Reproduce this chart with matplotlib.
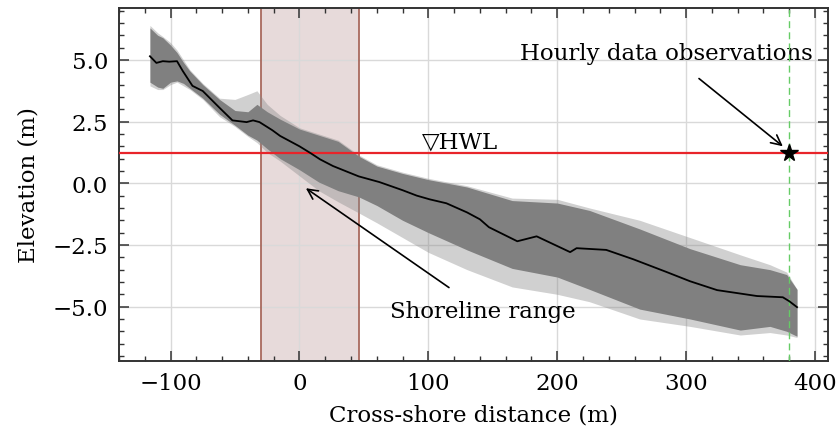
import numpy as np
from matplotlib import pyplot as plt

plt.rcParams['font.family'] = ['DejaVu Serif', 'DejaVu Sans']
plt.rcParams['mathtext.fontset'] = 'dejavuserif'

x_env = [-116, -110, -106, -100, -95, -90, -85, -75, -62, -50, -40, -33, -25, -15, 0, 15, 30,
         46, 60, 80, 100, 130, 165, 200, 225, 264, 303, 342, 365, 378, 386]
upper_out = [6.4, 6.1, 5.95, 5.7, 5.4, 5.0, 4.6, 4.05, 3.45, 3.4, 3.6, 3.75, 3.2, 2.75, 2.25, 2.0, 1.75,
             1.15, 0.75, 0.45, 0.2, -0.1, -0.6, -0.65, -1.0, -1.5, -2.2, -2.9, -3.3, -3.6, -4.3]
upper_core = [6.3, 6.0, 5.9, 5.6, 5.3, 4.9, 4.55, 4.0, 3.4, 2.95, 2.9, 3.2, 2.9, 2.6, 2.2, 1.95, 1.7,
              1.1, 0.7, 0.4, 0.15, -0.15, -0.7, -0.8, -1.1, -1.85, -2.65, -3.3, -3.5, -3.7, -4.3]
lower_core = [4.1, 3.9, 3.85, 4.1, 4.15, 4.05, 3.85, 3.45, 2.8, 2.35, 1.95, 1.75, 1.4, 1.0, 0.55, 0.05, -0.3,
              -0.55, -0.9, -1.5, -2.0, -2.7, -3.45, -3.8, -4.3, -5.1, -5.5, -5.95, -5.8, -6.0, -6.2]
lower_out = [3.95, 3.8, 3.8, 4.0, 4.1, 3.95, 3.8, 3.4, 2.7, 2.3, 1.9, 1.65, 1.25, 0.9, 0.3, -0.3, -0.75,
             -1.2, -1.6, -2.2, -2.8, -3.5, -4.2, -4.5, -4.8, -5.5, -5.8, -6.15, -6.05, -6.15, -6.25]

# mean profile
x_mean = [-116, -111, -106, -101, -95, -90.5, -83, -75, -62, -52, -41, -36, -31, -21, -15, 0, 9, 16, 26,
          46, 62, 80, 91, 101, 114, 130, 140, 147, 169, 184, 210, 215, 238, 259, 285, 303, 324, 355,
          375, 380, 386]
y_mean = [5.15, 4.88, 4.95, 4.93, 4.95, 4.55, 3.95, 3.74, 3.06, 2.55, 2.48, 2.55, 2.48, 2.15, 1.92, 1.5,
          1.21, 0.97, 0.7, 0.28, 0.05, -0.28, -0.5, -0.65, -0.81, -1.18, -1.46, -1.78, -2.35, -2.15,
          -2.79, -2.63, -2.7, -3.08, -3.6, -3.97, -4.33, -4.57, -4.62, -4.78, -5.02]

hwl = 1.22
shore_lo, shore_hi = -30, 46
obs_x = 380

fig = plt.figure(figsize=(8.38, 4.35), dpi=100)
ax = fig.add_axes([0.142, 0.168, 0.846, 0.811])

ax.axvspan(shore_lo, shore_hi, facecolor='#e7dada', zorder=0)
ax.axvline(shore_lo, color='#a86a5e', lw=1.3, zorder=1)
ax.axvline(shore_hi, color='#a86a5e', lw=1.3, zorder=1)

ax.fill_between(x_env, lower_out, upper_out, color='#8a8a8a', alpha=0.4, lw=0, zorder=2)
ax.fill_between(x_env, lower_core, upper_core, color='#808080', lw=0, zorder=3)
ax.plot(x_mean, y_mean, color='black', lw=1.3, zorder=5)

ax.axhline(hwl, color='#e8242a', lw=1.6, zorder=4)
ax.axvline(obs_x, color='#66cc66', lw=1.0, ls=(0, (5, 3)), zorder=4)
ax.plot(obs_x, hwl, marker='*', color='black', ms=13, zorder=6)

ax.text(95, 1.7, '\u25bdHWL', fontsize=16.5, va='center', ha='left', zorder=7)
ax.annotate('Hourly data observations', xy=(375, 1.5), xytext=(285, 5.3),
            fontsize=16.5, ha='center', va='center',
            arrowprops=dict(arrowstyle='->', color='black', lw=1.2, shrinkA=14, shrinkB=0, mutation_scale=18))
ax.annotate('Shoreline range', xy=(5, -0.2), xytext=(70, -5.17),
            fontsize=16.5, ha='left', va='center',
            arrowprops=dict(arrowstyle='->', color='black', lw=1.2, shrinkA=12, shrinkB=0, mutation_scale=18))

ax.set_xlim(-140, 410)
ax.set_ylim(-7.2, 7.1)
ax.set_xticks([-100, 0, 100, 200, 300, 400])
ax.set_yticks([-5.0, -2.5, 0.0, 2.5, 5.0])
ax.set_yticklabels(['\u22125.0', '\u22122.5', '0.0', '2.5', '5.0'])
ax.set_xticklabels(['\u2212100', '0', '100', '200', '300', '400'])
ax.set_xticks(np.arange(-140, 411, 20), minor=True)
ax.set_yticks(np.arange(-7.0, 7.1, 0.5), minor=True)
ax.tick_params(which='both', direction='in', top=True, right=True, labelsize=16.5, color='#333333')
ax.tick_params(which='major', length=7, width=1.1, pad=8)
ax.tick_params(which='minor', length=3.5, width=1.0)
ax.grid(True, which='major', color='#d9d9d9', lw=1.0, zorder=0)
ax.set_axisbelow(True)
for s in ax.spines.values():
    s.set_linewidth(1.4)
    s.set_color('#333333')

ax.set_xlabel('Cross-shore distance (m)', fontsize=16.5, labelpad=7)
ax.set_ylabel('Elevation (m)', fontsize=16.5, labelpad=9)

plt.savefig('out.png', dpi=100)
